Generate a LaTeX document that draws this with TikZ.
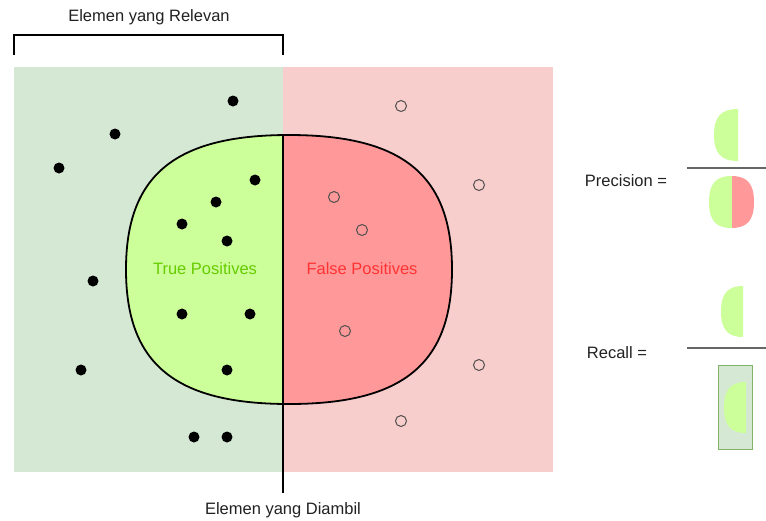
\documentclass[tikz,border=0pt]{standalone}
\usepackage{fontspec}
\setmainfont{Liberation Sans}
\definecolor{relgreen}{HTML}{D5E8D4}
\definecolor{relpink}{HTML}{F8CECC}
\definecolor{tpgreen}{HTML}{CCFF99}
\definecolor{fpred}{HTML}{FF9999}
\definecolor{tptext}{HTML}{66CC00}
\definecolor{fptext}{HTML}{FF3333}
\definecolor{rimgreen}{HTML}{82B366}
\definecolor{labelgray}{HTML}{222222}
% rounded blob and its left half, in unit coordinates
\newcommand{\blobshape}{(-1,0) .. controls (-1,-0.7) and (-0.7,-1) .. (0,-1) .. controls (0.7,-1) and (1,-0.7) .. (1,0) .. controls (1,0.7) and (0.7,1) .. (0,1) .. controls (-0.7,1) and (-1,0.7) .. (-1,0) -- cycle}
\newcommand{\halfblobshape}{(0,-1) -- (0,1) .. controls (-0.7,1) and (-1,0.7) .. (-1,0) .. controls (-1,-0.7) and (-0.7,-1) .. (0,-1) -- cycle}
\begin{document}
\begin{tikzpicture}[
            x=1pt, y=-1pt,
            every node/.style={font=\fontsize{16.5}{19}\selectfont, text=labelgray},
            hit/.style={fill=black},
            miss/.style={draw=labelgray!80, line width=1pt, fill=none}
        ]
        \fill[white] (0,0) rectangle (766,520);
        \useasboundingbox (0,0) rectangle (766,520);
        % relevant / not relevant halves
        \fill[relgreen] (14,67) rectangle (283,472);
        \fill[relpink] (283,67) rectangle (553,472);
        % retrieved elements
        \begin{scope}
            \clip (0,0) rectangle (283,520);
            \fill[tpgreen, shift={(289,269.5)}, xscale=163, yscale=134.5] \blobshape;
        \end{scope}
        \begin{scope}
            \clip (283,0) rectangle (560,520);
            \fill[fpred, shift={(289,269.5)}, xscale=163, yscale=134.5] \blobshape;
        \end{scope}
        \draw[line width=1.8pt, shift={(289,269.5)}, xscale=163, yscale=134.5] \blobshape;
        \draw[line width=1.8pt] (283,135) -- (283,493);
        % bracket
        \draw[line width=2pt] (14,55) -- (14,35) -- (283,35) -- (283,55);
        \node (relevan) at (149,17) {Elemen yang Relevan};
        \node (diambil) at (283,510) {Elemen yang Diambil};
        \node[text=tptext] (tp) at (205,269) {True Positives};
        \node[text=fptext] (fp) at (362,269) {False Positives};
        % elements
        \foreach \x/\y in {233/101, 115/134, 59/168, 255/180, 216/202, 182/224, 227/241,
                93/281, 182/314, 250/314, 81/370, 227/370, 194/437, 227/437}
            \fill[hit] (\x,\y) circle (5.5pt);
        \foreach \x/\y in {401/106, 479/185, 334/197, 362/230, 345/331, 479/365, 401/421}
            \draw[miss] (\x,\y) circle (5.5pt);
        % precision
        \node (precision) at (626,181) {Precision =};
        \draw[line width=1.5pt, draw=gray!80!black] (687,168) -- (766,168);
        \fill[tpgreen, shift={(738,135)}, xscale=24, yscale=26] \halfblobshape;
        \begin{scope}
            \clip (700,170) rectangle (732,235);
            \fill[tpgreen, shift={(731.5,202)}, xscale=22.5, yscale=26] \blobshape;
        \end{scope}
        \begin{scope}
            \clip (732,170) rectangle (760,235);
            \fill[fpred, shift={(731.5,202)}, xscale=22.5, yscale=26] \blobshape;
        \end{scope}
        % recall
        \node (recall) at (617,353) {Recall =};
        \draw[line width=1.5pt, draw=gray!80!black] (687,348) -- (766,348);
        \fill[tpgreen, shift={(743,311.5)}, xscale=22, yscale=25.5] \halfblobshape;
        \draw[fill=relgreen, draw=rimgreen, line width=1pt] (718,365) rectangle (752,449);
        \fill[tpgreen, shift={(746,407.5)}, xscale=22, yscale=25.5] \halfblobshape;
    \end{tikzpicture}
\end{document}
